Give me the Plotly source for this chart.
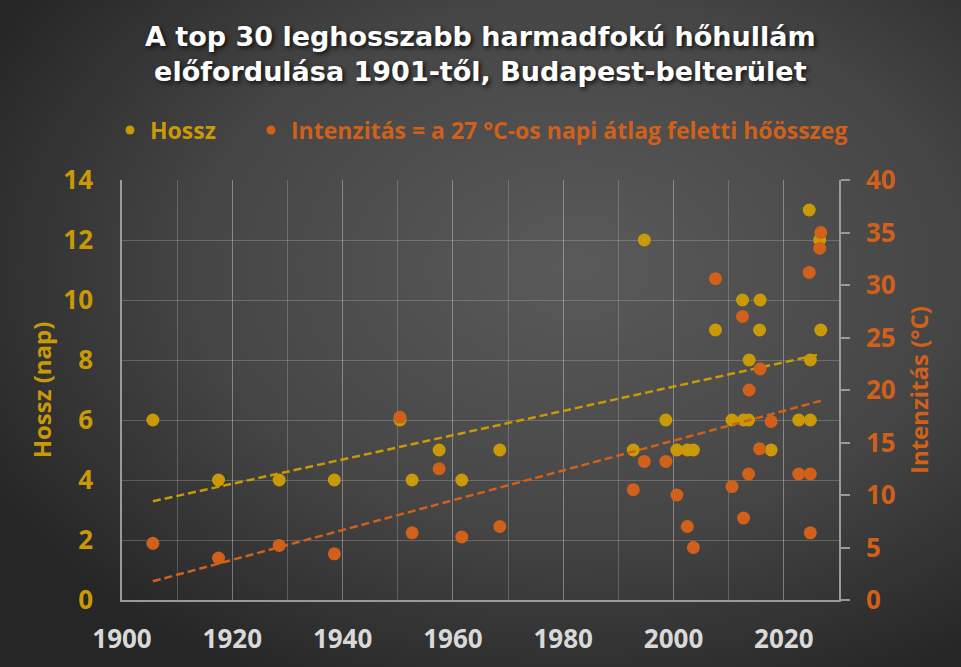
import base64
import numpy as np
import plotly.graph_objects as go

# ---- data ----
years = [1905.6, 1917.5, 1928.5, 1938.5, 1950.4, 1952.6, 1957.5, 1961.6, 1968.5,
         1992.7, 1994.7, 1998.6, 2000.6, 2002.5, 2003.6, 2007.6, 2010.6, 2012.5,
         2012.7, 2013.6, 2013.7, 2015.6, 2015.7, 2017.7, 2022.7, 2024.6, 2024.8,
         2024.8, 2026.5, 2026.7]
hossz = [6, 4, 4, 4, 6, 4, 5, 4, 5,
         5, 12, 6, 5, 5, 5, 9, 6, 10,
         6, 6, 8, 9, 10, 5, 6, 13, 8,
         6, 12, 9]
intenzitas = [5.4, 4.0, 5.2, 4.4, 17.4, 6.4, 12.5, 6.0, 7.0,
              10.5, 13.2, 13.2, 10.0, 7.0, 5.0, 30.6, 10.8, 27.0,
              7.8, 12.0, 20.0, 14.4, 22.0, 17.0, 12.0, 31.2, 12.0,
              6.4, 33.5, 35.0]
x_ticks = [1900, 1920, 1940, 1960, 1980, 2000, 2020]
y1_ticks = [0, 2, 4, 6, 8, 10, 12, 14]
y2_ticks = [0, 5, 10, 15, 20, 25, 30, 35, 40]

title_text = "A top 30 leghosszabb harmadfokú hőhullám<br>előfordulása 1901-től, Budapest-belterület"
name_h = "Hossz"
name_i = "Intenzitás = a 27 °C-os napi átlag feletti hőösszeg"

YEL = "#C99A06"
ORA = "#D0601A"
FONT = "Open Sans"
TFONT = "DejaVu Sans"

W, H = 961, 667
ML, MR, MT, MB = 122, 122, 180, 67
PW, PH = W - ML - MR, H - MT - MB

# linear trends
xa = np.array(years)
c1 = np.polyfit(xa, np.array(hossz), 1)
c2 = np.polyfit(xa, np.array(intenzitas), 1)
tx = np.array([xa.min(), xa.max()])

fig = go.Figure()
fig.add_trace(go.Scatter(x=years, y=hossz, mode="markers", yaxis="y",
                         marker=dict(size=13, color=YEL), showlegend=False))
fig.add_trace(go.Scatter(x=years, y=intenzitas, mode="markers", yaxis="y2",
                         marker=dict(size=13, color=ORA), showlegend=False))
fig.add_trace(go.Scatter(x=tx, y=np.polyval(c1, tx), mode="lines", yaxis="y",
                         line=dict(color=YEL, width=2.5, dash="8px,4px"), showlegend=False))
fig.add_trace(go.Scatter(x=tx, y=np.polyval(c2, tx), mode="lines", yaxis="y2",
                         line=dict(color=ORA, width=2.5, dash="8px,4px"), showlegend=False))
# legend-only entries
fig.add_trace(go.Scatter(x=[None], y=[None], mode="markers", marker=dict(size=9, color=YEL),
                         name=f'<span style="color:{YEL}">{name_h}</span>', legend="legend"))
fig.add_trace(go.Scatter(x=[None], y=[None], mode="markers", marker=dict(size=9, color=ORA),
                         name=f'<span style="color:{ORA}">{name_i}</span>', legend="legend2"))

svg = (f'<svg xmlns="http://www.w3.org/2000/svg" width="{W}" height="{H}" viewBox="0 0 {W} {H}">'
       '<defs><radialGradient id="g" cx="0.6" cy="0.4" r="0.7">'
       '<stop offset="0" stop-color="#5a5a5a"/><stop offset="0.55" stop-color="#464646"/>'
       '<stop offset="1" stop-color="#262626"/></radialGradient></defs>'
       f'<rect width="{W}" height="{H}" fill="url(#g)"/></svg>')
src = "data:image/svg+xml;base64," + base64.b64encode(svg.encode()).decode()

grid = "rgba(200,200,200,0.28)"
axl = "#9a9a9a"
leg_font = dict(family=FONT, size=23, weight="bold")

fig.update_layout(
    width=W, height=H,
    margin=dict(l=ML, r=MR, t=MT, b=MB, autoexpand=False),
    paper_bgcolor="#3a3a3a", plot_bgcolor="rgba(0,0,0,0)",
    font=dict(family=FONT),
    images=[dict(source=src, xref="paper", yref="paper", x=-ML / PW, y=1 + MT / PH,
                 sizex=W / PW, sizey=H / PH, xanchor="left", yanchor="top",
                 sizing="stretch", layer="below")],
    annotations=[dict(text=title_text, xref="paper", yref="paper", x=0.5,
                      y=1 + (MT - 54) / PH, xanchor="center", yanchor="middle",
                      showarrow=False,
                      font=dict(family=TFONT, size=27, color="white", weight="bold",
                                shadow="2px 2px 4px #111"))],
    legend=dict(orientation="h", x=(110 - ML) / PW, xanchor="left", y=1 + (MT - 130) / PH,
                yanchor="middle", font=leg_font, bgcolor="rgba(0,0,0,0)"),
    legend2=dict(orientation="h", x=(251 - ML) / PW, xanchor="left", y=1 + (MT - 130) / PH,
                 yanchor="middle", font=leg_font, bgcolor="rgba(0,0,0,0)"),
    xaxis=dict(range=[1900, 2030], tickvals=x_ticks, showgrid=True, gridcolor=grid,
               gridwidth=1, minor=dict(dtick=10, showgrid=True, gridcolor=grid, gridwidth=1),
               showline=True, linecolor=axl, linewidth=1.5, ticks="", zeroline=False,
               ticklabelstandoff=15,
               tickfont=dict(family=FONT, size=26, color="#D9D9D9", weight="bold")),
    yaxis=dict(range=[0, 14], tickvals=y1_ticks, showgrid=True, gridcolor=grid,
               showline=True, linecolor=axl, linewidth=1.5, ticks="", zeroline=False,
               ticklabelstandoff=22,
               tickfont=dict(family=FONT, size=26, color=YEL, weight="bold"),
               title=dict(text="Hossz (nap)", standoff=5,
                          font=dict(family=FONT, size=24, color=YEL, weight="bold"))),
    yaxis2=dict(range=[0, 40], tickvals=y2_ticks, overlaying="y", side="right",
                showgrid=False, showline=True, linecolor=axl, linewidth=1.5,
                ticks="outside", ticklen=9, tickcolor=axl, tickwidth=1.5, zeroline=False,
                ticklabelstandoff=11,
                tickfont=dict(family=FONT, size=26, color=ORA, weight="bold"),
                title=dict(text="Intenzitás (°C)", standoff=17,
                           font=dict(family=FONT, size=24, color=ORA, weight="bold"))),
)

fig.write_html("out.html", config={"displayModeBar": False},
               post_script="document.body.style.margin='0';document.body.style.overflow='hidden';")
